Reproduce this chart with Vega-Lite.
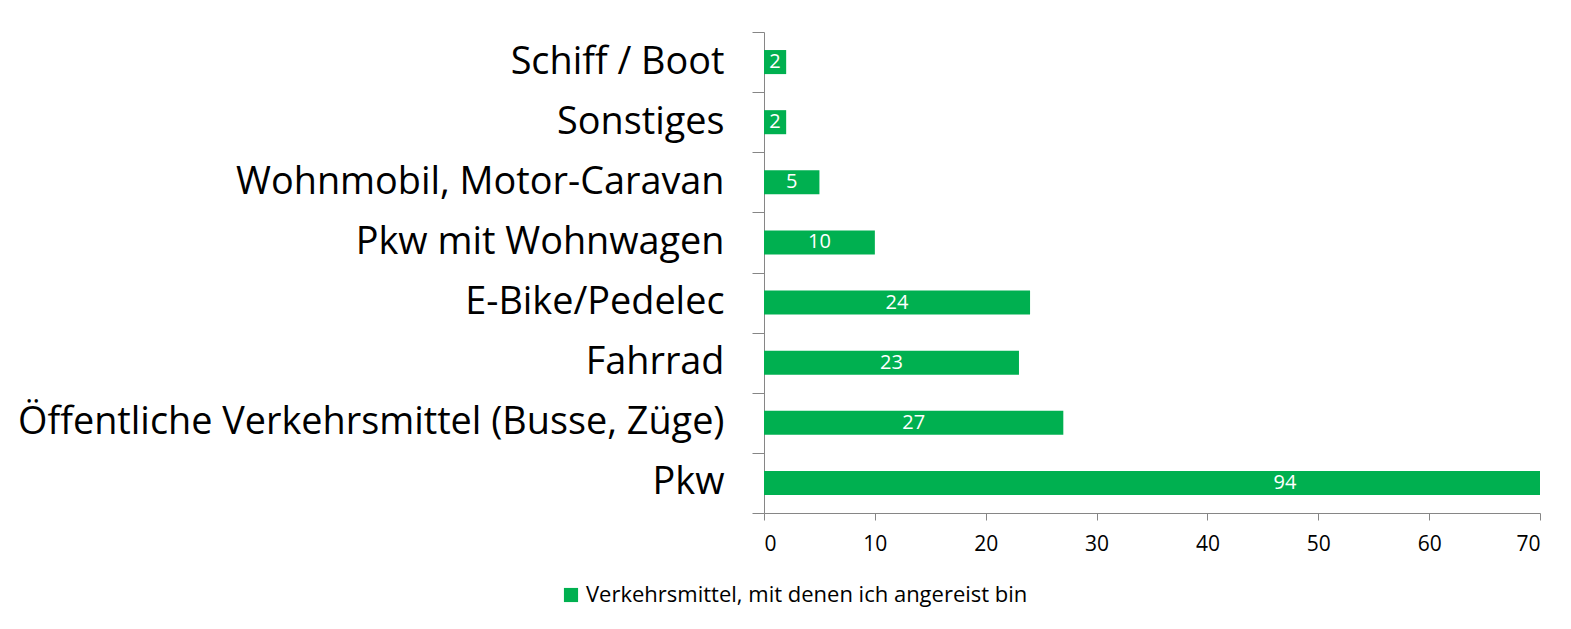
{
  "$schema": "https://vega.github.io/schema/vega-lite/v6.json",
  "autosize": "none",
  "width": 776,
  "height": 481,
  "padding": {"left": 764, "top": 32, "right": 31, "bottom": 116},
  "background": "white",
  "config": {
    "view": {"stroke": null},
    "font": "Open Sans",
    "axis": {"domainColor": "#868686", "tickColor": "#868686", "labelColor": "#000000", "grid": false, "labelFont": "Open Sans"}
  },
  "data": {
    "values": [
      {"mode": "Schiff / Boot", "value": 2, "series": "Verkehrsmittel, mit denen ich angereist bin"},
      {"mode": "Sonstiges ", "value": 2, "series": "Verkehrsmittel, mit denen ich angereist bin"},
      {"mode": "Wohnmobil, Motor-Caravan", "value": 5, "series": "Verkehrsmittel, mit denen ich angereist bin"},
      {"mode": "Pkw mit Wohnwagen", "value": 10, "series": "Verkehrsmittel, mit denen ich angereist bin"},
      {"mode": "E-Bike/Pedelec", "value": 24, "series": "Verkehrsmittel, mit denen ich angereist bin"},
      {"mode": "Fahrrad", "value": 23, "series": "Verkehrsmittel, mit denen ich angereist bin"},
      {"mode": "Öffentliche Verkehrsmittel (Busse, Züge)", "value": 27, "series": "Verkehrsmittel, mit denen ich angereist bin"},
      {"mode": "Pkw", "value": 94, "series": "Verkehrsmittel, mit denen ich angereist bin"}
    ]
  },
  "encoding": {
    "y": {
      "field": "mode", "type": "nominal", "sort": null,
      "scale": {"paddingInner": 0, "paddingOuter": 0},
      "axis": {"title": null, "labelFontSize": 37.8, "labelPadding": 28, "tickSize": 12, "tickBand": "extent", "labelLimit": 800}
    }
  },
  "layer": [
    {
      "mark": {"type": "bar", "clip": true, "color": "#00B050", "height": {"band": 0.4}},
      "encoding": {
        "x": {
          "field": "value", "type": "quantitative",
          "scale": {"domain": [0, 70], "nice": false},
          "axis": {"title": null, "values": [0, 10, 20, 30, 40, 50, 60, 70], "labelFontSize": 21, "tickSize": 7, "labelPadding": 13}
        },
        "color": {
          "field": "series", "type": "nominal",
          "scale": {"range": ["#00B050"]},
          "legend": {
            "title": null, "orient": "none", "legendX": -204, "legendY": 552,
            "symbolType": "square", "symbolSize": 200, "symbolStrokeWidth": 0,
            "labelFontSize": 22, "labelColor": "#000000", "labelLimit": 800, "labelOffset": 4
          }
        }
      }
    },
    {
      "mark": {"type": "text", "color": "white", "fontSize": 20, "baseline": "middle", "align": "center", "clip": true},
      "encoding": {
        "x": {"field": "value", "type": "quantitative", "scale": {"domain": [0, 140], "nice": false}, "axis": null},
        "text": {"field": "value", "type": "quantitative"}
      }
    }
  ],
  "resolve": {"scale": {"x": "independent"}}
}
